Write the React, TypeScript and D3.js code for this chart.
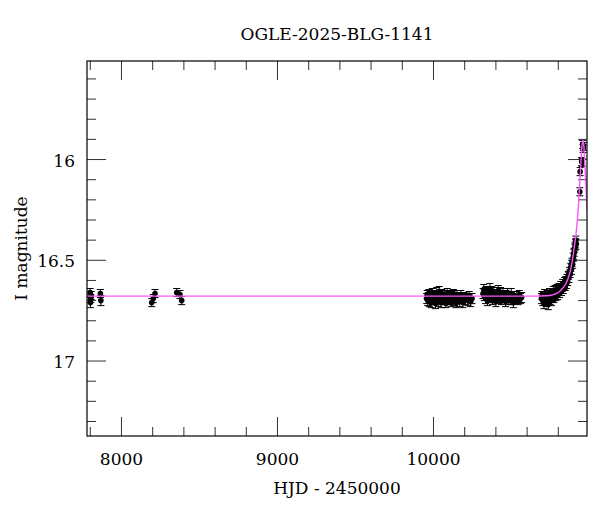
import React from "react";
import * as d3 from "d3";

// [HJD-2450000, I mag, error]
const season2017: [number, number, number][] = [
  [7799, 16.66, 0.02], [7801, 16.71, 0.025], [7803, 16.69, 0.02], [7806, 16.675, 0.02],
  [7865, 16.665, 0.02], [7868, 16.70, 0.025],
  [8194, 16.71, 0.02], [8204, 16.69, 0.02], [8215, 16.665, 0.02],
  [8354, 16.66, 0.02], [8375, 16.67, 0.02], [8386, 16.70, 0.02],
];

const season2023: [number, number, number][] = [
  [9956, 16.69, 0.025], [9960, 16.67, 0.02], [9963, 16.70, 0.025], [9967, 16.68, 0.02],
  [9970, 16.665, 0.02], [9974, 16.705, 0.025], [9978, 16.69, 0.02], [9981, 16.675, 0.02],
  [9985, 16.71, 0.025], [9989, 16.68, 0.02], [9993, 16.66, 0.02], [9997, 16.695, 0.025],
  [10001, 16.685, 0.02], [10005, 16.70, 0.02], [10009, 16.67, 0.02], [10013, 16.715, 0.025],
  [10017, 16.68, 0.02], [10021, 16.66, 0.025], [10025, 16.69, 0.02], [10029, 16.675, 0.02],
  [10033, 16.705, 0.025], [10037, 16.655, 0.025], [10041, 16.69, 0.02], [10045, 16.68, 0.02],
  [10049, 16.71, 0.025], [10053, 16.665, 0.02], [10057, 16.695, 0.02], [10061, 16.685, 0.025],
  [10066, 16.70, 0.02], [10070, 16.67, 0.02], [10074, 16.69, 0.025], [10079, 16.715, 0.02],
  [10083, 16.68, 0.02], [10088, 16.665, 0.025], [10092, 16.70, 0.02], [10097, 16.685, 0.02],
  [10102, 16.695, 0.025], [10107, 16.67, 0.02], [10112, 16.71, 0.02], [10117, 16.68, 0.025],
  [10122, 16.69, 0.02], [10127, 16.665, 0.02], [10133, 16.70, 0.025], [10138, 16.685, 0.02],
  [10144, 16.715, 0.02], [10150, 16.675, 0.025], [10156, 16.695, 0.02], [10162, 16.68, 0.02],
  [10168, 16.705, 0.025], [10175, 16.67, 0.02], [10182, 16.69, 0.02], [10189, 16.71, 0.025],
  [10196, 16.68, 0.02], [10204, 16.695, 0.025], [10212, 16.685, 0.02], [10220, 16.70, 0.025],
  [10229, 16.675, 0.02], [10238, 16.705, 0.025], [10247, 16.69, 0.025],
];

const season2024: [number, number, number][] = [
  [10318, 16.665, 0.025], [10322, 16.645, 0.025], [10326, 16.68, 0.02], [10330, 16.66, 0.02],
  [10334, 16.69, 0.025], [10338, 16.65, 0.02], [10342, 16.675, 0.02], [10346, 16.70, 0.025],
  [10350, 16.655, 0.02], [10354, 16.685, 0.02], [10358, 16.665, 0.025], [10362, 16.64, 0.025],
  [10366, 16.69, 0.02], [10370, 16.67, 0.02], [10374, 16.655, 0.025], [10378, 16.70, 0.02],
  [10382, 16.68, 0.02], [10386, 16.66, 0.025], [10390, 16.69, 0.02], [10395, 16.675, 0.02],
  [10400, 16.705, 0.025], [10405, 16.665, 0.02], [10410, 16.685, 0.02], [10415, 16.65, 0.025],
  [10420, 16.695, 0.02], [10425, 16.675, 0.02], [10430, 16.66, 0.025], [10435, 16.70, 0.02],
  [10440, 16.68, 0.02], [10445, 16.665, 0.025], [10450, 16.69, 0.02], [10456, 16.67, 0.02],
  [10462, 16.705, 0.025], [10468, 16.68, 0.02], [10474, 16.66, 0.02], [10480, 16.695, 0.025],
  [10486, 16.675, 0.02], [10492, 16.70, 0.02], [10498, 16.665, 0.025], [10505, 16.685, 0.02],
  [10512, 16.71, 0.025], [10519, 16.675, 0.02], [10526, 16.695, 0.02], [10534, 16.68, 0.025],
  [10542, 16.70, 0.02], [10550, 16.67, 0.02], [10558, 16.69, 0.025], [10565, 16.685, 0.025],
];

const season2025: [number, number, number][] = [
  [10692, 16.69, 0.025], [10696, 16.675, 0.02], [10700, 16.70, 0.025], [10704, 16.68, 0.02],
  [10708, 16.715, 0.025], [10712, 16.665, 0.02], [10716, 16.695, 0.025], [10720, 16.68, 0.02],
  [10724, 16.705, 0.025], [10728, 16.67, 0.02], [10732, 16.69, 0.025], [10736, 16.72, 0.025],
  [10740, 16.68, 0.02], [10744, 16.66, 0.02], [10748, 16.695, 0.025], [10752, 16.675, 0.02],
  [10756, 16.70, 0.025], [10760, 16.665, 0.02], [10764, 16.685, 0.02], [10768, 16.655, 0.025],
  [10772, 16.69, 0.02], [10776, 16.67, 0.02], [10780, 16.65, 0.025], [10784, 16.68, 0.02],
  [10788, 16.66, 0.02], [10792, 16.645, 0.025], [10796, 16.675, 0.02], [10800, 16.655, 0.02],
  [10804, 16.64, 0.025], [10808, 16.665, 0.02], [10812, 16.645, 0.02], [10816, 16.63, 0.025],
  [10820, 16.655, 0.02], [10824, 16.635, 0.02], [10828, 16.62, 0.025], [10832, 16.645, 0.02],
  [10836, 16.625, 0.02], [10840, 16.61, 0.025], [10844, 16.63, 0.02], [10848, 16.60, 0.02],
  [10852, 16.615, 0.025], [10856, 16.59, 0.02], [10860, 16.605, 0.02], [10864, 16.575, 0.02],
  [10868, 16.585, 0.025], [10872, 16.555, 0.02], [10876, 16.565, 0.02], [10880, 16.535, 0.02],
  [10884, 16.545, 0.025], [10888, 16.51, 0.02], [10892, 16.52, 0.02], [10896, 16.485, 0.02],
  [10899, 16.47, 0.025], [10902, 16.46, 0.02], [10905, 16.44, 0.02], [10908, 16.43, 0.02],
  [10910, 16.415, 0.02], [10912, 16.40, 0.02], [10914, 16.42, 0.025],
  [10938, 16.16, 0.02], [10940, 16.06, 0.02], [10950, 16.01, 0.02], [10953, 16.015, 0.02],
  [10956, 15.925, 0.02], [10959, 15.945, 0.02], [10961, 15.935, 0.02],
];

// model light curve
const modelT = [7779, 10650, 10720, 10760, 10790, 10815, 10835, 10850, 10865, 10878, 10888, 10897,
  10905, 10912, 10920, 10928, 10936, 10942, 10947, 10952, 10959, 10963, 10967, 10972, 10978, 10984];
const modelMag = [16.678, 16.678, 16.676, 16.672, 16.664, 16.65, 16.632, 16.614, 16.585, 16.55, 16.51, 16.465,
  16.42, 16.38, 16.32, 16.24, 16.14, 16.06, 15.98, 15.93, 15.905, 15.925, 15.975, 16.05, 16.14, 16.25];

const xTickLabels = [8000, 9000, 10000];
const yTickLabels = [16, 16.5, 17];
const title = "OGLE-2025-BLG-1141";
const xLabel = "HJD - 2450000";
const yLabel = "I magnitude";

const W = 600, H = 512;
const L = 87, R = 587, T = 61, B = 436;
const FONT = "'DejaVu Serif', serif";
const FS = 17;

export default function App() {
  const x = d3.scaleLinear().domain([7779, 10984]).range([L, R]);
  const y = d3.scaleLinear().domain([15.511, 17.372]).range([T, B]);

  const xMinor = d3.range(7800, 10984, 200).filter((v) => v % 1000 !== 0);
  const yMinor = d3.range(156, 174).map((v) => v / 10).filter((v) => Math.abs(v * 2 - Math.round(v * 2)) > 1e-6);

  const all = [...season2017, ...season2023, ...season2024, ...season2025];
  const model = modelT.map((t, i) => [t, modelMag[i]] as [number, number]);
  const line = d3.line<[number, number]>().x((d) => x(d[0])).y((d) => y(d[1])).curve(d3.curveMonotoneX);

  const majLen = 19, minLen = 9;
  const tickColor = "#333";

  return (
    <svg width={W} height={H} style={{ position: "absolute", left: 0, top: 0, background: "#fff" }}>
      <defs>
        <clipPath id="plotclip">
          <rect x={L} y={T} width={R - L} height={B - T} />
        </clipPath>
      </defs>
      <rect x={0} y={0} width={W} height={H} fill="#fff" />
      <text x={(L + R) / 2} y={40} textAnchor="middle" fontFamily={FONT} fontSize={FS}>{title}</text>

      {/* ticks */}
      {xTickLabels.map((v) => (
        <g key={"xM" + v}>
          <line x1={x(v)} x2={x(v)} y1={B} y2={B - majLen} stroke={tickColor} />
          <line x1={x(v)} x2={x(v)} y1={T} y2={T + majLen} stroke={tickColor} />
          <text x={x(v)} y={465} textAnchor="middle" fontFamily={FONT} fontSize={FS}>{v}</text>
        </g>
      ))}
      {xMinor.map((v) => (
        <g key={"xm" + v}>
          <line x1={x(v)} x2={x(v)} y1={B} y2={B - minLen} stroke={tickColor} />
          <line x1={x(v)} x2={x(v)} y1={T} y2={T + minLen} stroke={tickColor} />
        </g>
      ))}
      {yTickLabels.map((v) => (
        <g key={"yM" + v}>
          <line x1={L} x2={L + majLen} y1={y(v)} y2={y(v)} stroke={tickColor} />
          <line x1={R} x2={R - majLen} y1={y(v)} y2={y(v)} stroke={tickColor} />
          <text x={75} y={y(v) + 7} textAnchor="end" fontFamily={FONT} fontSize={FS}>{v}</text>
        </g>
      ))}
      {yMinor.map((v) => (
        <g key={"ym" + v}>
          <line x1={L} x2={L + minLen} y1={y(v)} y2={y(v)} stroke={tickColor} />
          <line x1={R} x2={R - minLen} y1={y(v)} y2={y(v)} stroke={tickColor} />
        </g>
      ))}

      {/* data */}
      <g clipPath="url(#plotclip)">
        {all.map((d, i) => {
          const cx = x(d[0]);
          const y1 = y(d[1] - d[2]);
          const y2 = y(d[1] + d[2]);
          return (
            <g key={"e" + i} stroke="#000" strokeWidth={1}>
              <line x1={cx} x2={cx} y1={y1} y2={y2} />
              <line x1={cx - 3.5} x2={cx + 3.5} y1={y1} y2={y1} />
              <line x1={cx - 3.5} x2={cx + 3.5} y1={y2} y2={y2} />
            </g>
          );
        })}
        {all.map((d, i) => (
          <circle key={"p" + i} cx={x(d[0])} cy={y(d[1])} r={2.8} fill="#000" />
        ))}
        <path d={line(model) || ""} fill="none" stroke="#ff55ff" strokeWidth={1.4} />
      </g>

      <rect x={L} y={T} width={R - L} height={B - T} fill="none" stroke="#000" strokeWidth={1.2} />

      <text x={(L + R) / 2} y={494} textAnchor="middle" fontFamily={FONT} fontSize={FS}>{xLabel}</text>
      <text transform={`translate(27,${(T + B) / 2}) rotate(-90)`} textAnchor="middle" fontFamily={FONT} fontSize={FS}>{yLabel}</text>
    </svg>
  );
}
